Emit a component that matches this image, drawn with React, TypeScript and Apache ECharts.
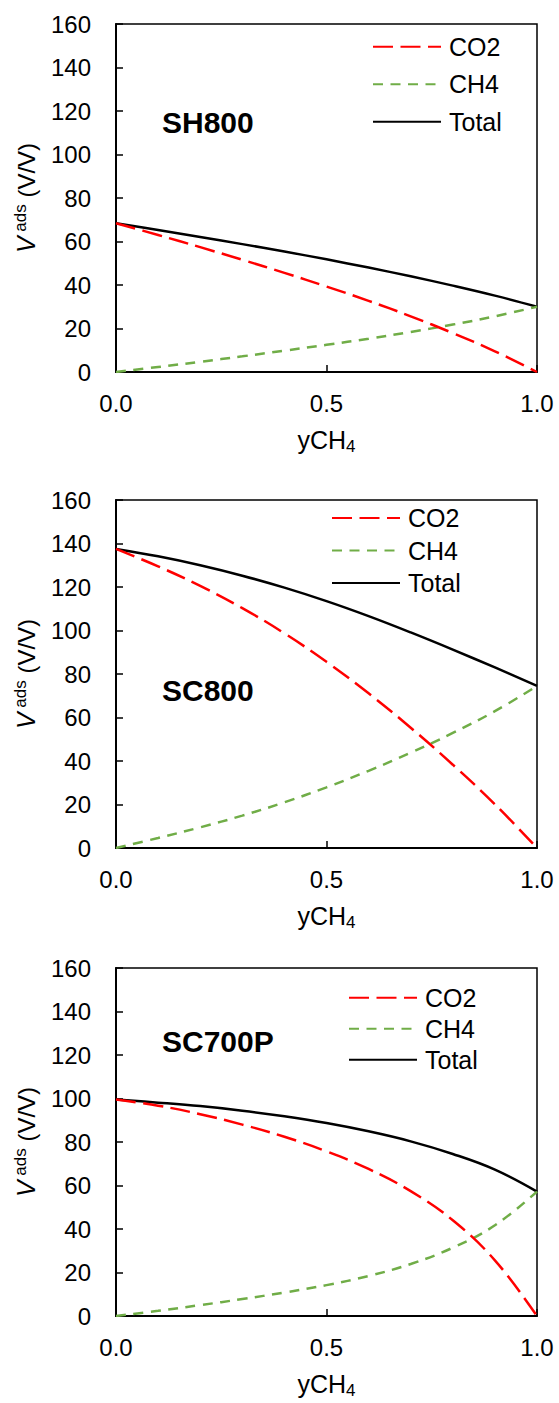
import React, { useEffect, useRef } from "react";
import * as echarts from "echarts";

// ---- data ----
const X = [0, 0.1, 0.2, 0.3, 0.4, 0.5, 0.6, 0.7, 0.8, 0.9, 1.0];
const X_TICK_LABELS = ["0.0", "0.5", "1.0"];
const PANEL_NAMES = ["SH800", "SC800", "SC700P"];
const SERIES_NAMES = ["CO2", "CH4", "Total"];

const SH800_CO2 = [68.4, 63.0, 57.4, 51.6, 45.6, 39.3, 32.7, 25.6, 17.9, 9.5, 0];
const SH800_CH4 = [0, 2.3, 4.7, 7.2, 9.8, 12.5, 15.3, 18.4, 21.8, 25.6, 30.0];
const SH800_TOTAL = [68.4, 65.3, 62.1, 58.8, 55.4, 51.8, 48.0, 44.0, 39.7, 35.1, 30.0];

const SC800_CO2 = [137.5, 129.5, 120.5, 110.3, 98.7, 85.6, 71.1, 55.3, 38.3, 20.1, 0];
const SC800_CH4 = [0, 4.6, 9.5, 14.9, 21.0, 27.9, 35.5, 43.8, 52.9, 62.9, 74.5];
const SC800_TOTAL = [137.5, 134.1, 130.0, 125.2, 119.7, 113.5, 106.6, 99.1, 91.2, 83.0, 74.5];

const SC700P_CO2 = [99.5, 96.7, 92.8, 88.0, 82.4, 75.7, 67.6, 57.4, 44.0, 25.6, 0];
const SC700P_CH4 = [0, 2.4, 5.0, 7.8, 10.8, 14.2, 18.4, 23.9, 31.4, 41.7, 57.2];
const SC700P_TOTAL = [99.5, 98.1, 96.5, 94.4, 91.8, 88.7, 84.9, 80.3, 74.5, 67.3, 57.2];

const PANELS = [
  [SH800_CO2, SH800_CH4, SH800_TOTAL],
  [SC800_CO2, SC800_CH4, SC800_TOTAL],
  [SC700P_CO2, SC700P_CH4, SC700P_TOTAL],
];

const FONT = "'Liberation Sans', Arial, sans-serif";

export default function App() {
  const ref = useRef<HTMLDivElement>(null);

  useEffect(() => {
    if (!ref.current) return;
    const chart = echarts.init(ref.current, undefined, { renderer: "svg" });

    const gridTops = [24, 500, 968];
    const gridH = 348;
    const legendTops = [33.7, 505, 984.7];
    const legendLefts = [372, 331, 348];
    const legendGaps = [11.5, 6.5, 5];
    const titleTops = [107, 675, 1026];

    const lineStyles = [
      { color: "#FF0000", width: 2.5, type: [20, 7.5] },
      { color: "#70AD47", width: 2.5, type: [10, 7.5] },
      { color: "#000000", width: 2.5, type: "solid" },
    ];

    const grids = gridTops.map((t) => ({
      left: 116,
      width: 421,
      top: t,
      height: gridH,
      show: true,
      borderColor: "#000",
      borderWidth: 1.5,
      backgroundColor: "transparent",
    }));

    const xAxes = gridTops.map((_, i) => ({
      type: "value",
      gridIndex: i,
      min: 0,
      max: 1,
      interval: 0.5,
      name: "yCH{sub|4}",
      nameLocation: "middle",
      nameGap: 53,
      nameTextStyle: {
        fontFamily: FONT,
        fontSize: 25,
        color: "#000",
        lineHeight: 30,
        rich: {
          sub: { fontFamily: FONT, fontSize: 17, color: "#000", verticalAlign: "bottom", lineHeight: 17 },
        },
      },
      axisLine: { show: true, onZero: false, lineStyle: { color: "#000", width: 2 } },
      axisTick: { show: true, inside: true, length: 7, lineStyle: { color: "#000", width: 1.5 } },
      axisLabel: {
        margin: 19,
        fontFamily: FONT,
        fontSize: 24,
        color: "#000",
        formatter: (v: number) => X_TICK_LABELS[Math.round(v * 2)] ?? v.toFixed(1),
      },
      splitLine: { show: false },
    }));

    const yAxes = gridTops.map((_, i) => ({
      type: "value",
      gridIndex: i,
      min: 0,
      max: 160,
      interval: 20,
      name: "{v|V}{s| ads} (V/V)",
      nameLocation: "middle",
      nameRotate: 90,
      nameGap: 74,
      nameTextStyle: {
        fontFamily: FONT,
        fontSize: 24,
        color: "#000",
        lineHeight: 28,
        rich: {
          v: { fontFamily: FONT, fontSize: 25, fontStyle: "italic", color: "#000", lineHeight: 28 },
          s: { fontFamily: FONT, fontSize: 17, color: "#000", verticalAlign: "top", lineHeight: 20 },
        },
      },
      axisLine: { show: true, onZero: false, lineStyle: { color: "#000", width: 2 } },
      axisTick: { show: true, inside: true, length: 7, lineStyle: { color: "#000", width: 1.5 } },
      axisLabel: { margin: 25, fontFamily: FONT, fontSize: 24, color: "#000" },
      splitLine: { show: false },
    }));

    const series: any[] = [];
    PANELS.forEach((panel, i) => {
      panel.forEach((vals, k) => {
        series.push({
          type: "line",
          name: SERIES_NAMES[k],
          xAxisIndex: i,
          yAxisIndex: i,
          data: X.map((x, j) => [x, vals[j]]),
          symbol: "none",
          smooth: 0.4,
          lineStyle: lineStyles[k],
          itemStyle: { color: lineStyles[k].color },
          z: 3 - k,
        });
      });
    });

    const legends = gridTops.map((_, i) => ({
      orient: "vertical",
      left: legendLefts[i],
      top: legendTops[i],
      padding: 0,
      itemWidth: 68,
      itemHeight: 26,
      itemGap: legendGaps[i],
      selectedMode: false,
      itemStyle: { opacity: 0 },
      textStyle: { fontFamily: FONT, fontSize: 25, color: "#000", lineHeight: 26, padding: [0, 0, 0, 3] },
      data: SERIES_NAMES,
    }));

    const titles = PANEL_NAMES.map((n, i) => ({
      text: n,
      left: 162,
      top: titleTops[i],
      padding: 0,
      textStyle: { fontFamily: FONT, fontSize: 30, fontWeight: "bold", color: "#000", lineHeight: 30 },
    }));

    chart.setOption({
      animation: false,
      backgroundColor: "#fff",
      title: titles,
      legend: legends,
      grid: grids,
      xAxis: xAxes,
      yAxis: yAxes,
      series,
    });

    return () => chart.dispose();
  }, []);

  return (
    <div
      ref={ref}
      style={{ position: "absolute", left: 0, top: 0, width: 559, height: 1403 }}
    />
  );
}
